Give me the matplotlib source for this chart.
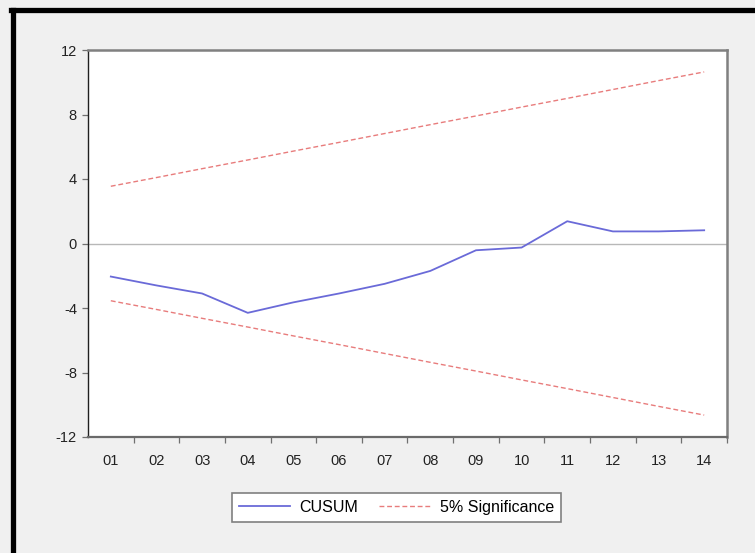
import matplotlib
matplotlib.use("Agg")
import matplotlib.pyplot as plt
from matplotlib.lines import Line2D

plt.rcParams['font.family'] = ['Liberation Sans', 'DejaVu Sans']

labels = ["01", "02", "03", "04", "05", "06", "07", "08", "09", "10", "11", "12", "13", "14"]
cusum = [-2.05, -2.6, -3.1, -4.3, -3.65, -3.1, -2.5, -1.7, -0.42, -0.25, 1.38, 0.75, 0.75, 0.82]
upper = [3.55, 4.09, 4.64, 5.18, 5.73, 6.27, 6.82, 7.37, 7.91, 8.46, 9.00, 9.55, 10.10, 10.64]
lower = [-3.55, -4.09, -4.64, -5.18, -5.73, -6.27, -6.82, -7.37, -7.91, -8.46, -9.00, -9.55, -10.10, -10.64]
yticks = [-12, -8, -4, 0, 4, 8, 12]

bg = "#f0f0f0"
fig = plt.figure(figsize=(7.55, 5.53), dpi=100, facecolor=bg)

# outer black frame (top and left edges)
fig.add_artist(Line2D([13.0/755, 13.0/755], [0, 1 - 9.5/553], transform=fig.transFigure, color="black", lw=3.8))
fig.add_artist(Line2D([11.0/755, 1], [1 - 9.5/553, 1 - 9.5/553], transform=fig.transFigure, color="black", lw=3.8))

ax = fig.add_axes([88/755, 116/553, 639/755, 387/553])
ax.set_facecolor("white")
x = list(range(len(labels)))

ax.axhline(0, color="#b8b8b8", lw=1.0, zorder=1)
ax.plot(x, cusum, color="#6a6ad8", lw=1.3, zorder=3, label="CUSUM")
ax.plot(x, upper, color="#e87c7c", lw=1.0, ls=(0, (3.5, 2)), zorder=2, label="5% Significance")
ax.plot(x, lower, color="#e87c7c", lw=1.0, ls=(0, (3.5, 2)), zorder=2)

ax.set_xlim(-0.5, len(labels) - 0.5)
ax.set_ylim(-12, 12)
ax.set_yticks(yticks)
ax.set_yticklabels([str(v) for v in yticks])
ax.set_xticks(x)
ax.set_xticklabels(labels)
ax.set_xticks([i + 0.5 for i in range(len(labels))], minor=True)
ax.tick_params(axis="x", which="major", length=0, pad=12, labelsize=10.5, colors="#222222")
ax.tick_params(axis="x", which="minor", length=4, width=0.9, color="#707070", direction="out")
ax.tick_params(axis="y", which="major", length=4, width=0.9, color="#707070", direction="out", pad=4, labelsize=10.5, labelcolor="#222222")

ax.spines["left"].set_color("#202020")
ax.spines["left"].set_linewidth(1.0)
ax.spines["bottom"].set_color("#6a6a6a")
ax.spines["bottom"].set_linewidth(1.6)
ax.spines["top"].set_color("#808080")
ax.spines["top"].set_linewidth(1.8)
ax.spines["right"].set_color("#808080")
ax.spines["right"].set_linewidth(1.8)

leg = fig.legend(loc="center", bbox_to_anchor=(396.5/755, 45.5/553), ncol=2, fontsize=11.5,
                 frameon=True, fancybox=False, edgecolor="#808080", facecolor="white",
                 handlelength=3.2, handletextpad=0.6, columnspacing=1.3,
                 borderpad=0.45, framealpha=1.0)
leg.get_frame().set_linewidth(1.2)

fig.savefig("out.png", dpi=100, facecolor=bg)
